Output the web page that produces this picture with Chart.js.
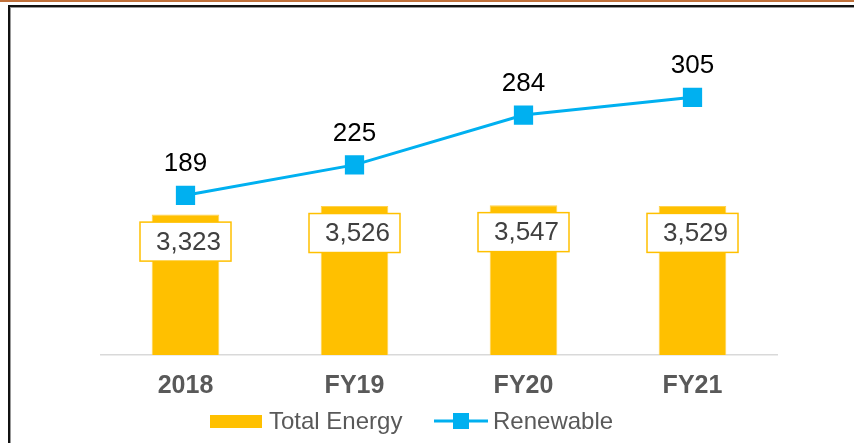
<!DOCTYPE html>
<html>
<head>
<meta charset="utf-8">
<script src="https://cdn.jsdelivr.net/npm/chart.js@4.4.0/dist/chart.umd.min.js"></script>
<style>
  html, body { margin: 0; padding: 0; background: #fff; }
  #wrap { position: relative; width: 854px; height: 443px; overflow: hidden; }
  #topline { position: absolute; left: 0; top: 0; width: 854px; height: 2px; background: #C0703A; }
  #frame { position: absolute; left: 8px; top: 5px; width: 860px; height: 460px;
           border-top: 2px solid #111; border-left: 2px solid #111;
           box-shadow: inset 1px 1px 0 #999; }
  canvas { position: absolute; left: 0; top: 0; }
</style>
</head>
<body>
<div id="wrap">
  <div id="topline"></div>
  <div id="frame"></div>
  <canvas id="chart" width="854" height="443"></canvas>
</div>
<script>
// dados
const categories = ["2018", "FY19", "FY20", "FY21"];
const totalEnergy = [3323, 3526, 3547, 3529];
const renewable = [189, 225, 284, 305];

const FONT = "'Liberation Sans', Arial, sans-serif";
const ORANGE = "#FFC000";
const BLUE = "#00B0F0";

// rótulos dos valores + legenda desenhados à mão
const labelsPlugin = {
  id: "valueLabels",
  afterDatasetsDraw(chart) {
    const ctx = chart.ctx;
    ctx.save();
    ctx.font = "26px " + FONT;
    ctx.textAlign = "center";
    ctx.textBaseline = "middle";

    // barras: caixa branca com borda laranja
    chart.getDatasetMeta(0).data.forEach((bar, i) => {
      const txt = totalEnergy[i].toLocaleString("en-US");
      const w = 91, h = 39;
      const cy = bar.y + 27;
      ctx.fillStyle = "#fff";
      ctx.strokeStyle = ORANGE;
      ctx.lineWidth = 1.5;
      ctx.fillRect(bar.x - w / 2, cy - h / 2, w, h);
      ctx.strokeRect(bar.x - w / 2, cy - h / 2, w, h);
      ctx.fillStyle = "#404040";
      ctx.fillText(txt, bar.x + 3, cy + 1);
    });

    // linha: número acima do ponto
    chart.getDatasetMeta(1).data.forEach((pt, i) => {
      ctx.fillStyle = "#000";
      ctx.fillText(String(renewable[i]), pt.x, pt.y - 31);
    });

    // legenda
    const ly = 421;
    ctx.font = "24px " + FONT;
    ctx.textAlign = "left";
    ctx.fillStyle = ORANGE;
    ctx.fillRect(210, ly - 6, 52, 13);
    ctx.fillStyle = "#595959";
    ctx.fillText(chart.data.datasets[0].label, 269, ly + 1);

    ctx.strokeStyle = BLUE;
    ctx.lineWidth = 3;
    ctx.beginPath();
    ctx.moveTo(434, ly);
    ctx.lineTo(488, ly);
    ctx.stroke();
    ctx.fillStyle = BLUE;
    ctx.fillRect(453, ly - 8, 16, 16);
    ctx.fillStyle = "#595959";
    ctx.fillText(chart.data.datasets[1].label, 493, ly + 1);
    ctx.restore();
  }
};

new Chart(document.getElementById("chart").getContext("2d"), {
  data: {
    labels: categories,
    datasets: [
      {
        type: "bar",
        label: "Total Energy",
        data: totalEnergy,
        backgroundColor: ORANGE,
        borderColor: "#FFD24D",
        borderWidth: 1,
        barPercentage: 0.8,
        categoryPercentage: 0.5,
        yAxisID: "y",
        order: 2
      },
      {
        type: "line",
        label: "Renewable",
        data: renewable,
        borderColor: BLUE,
        borderWidth: 3,
        backgroundColor: BLUE,
        pointStyle: "rect",
        pointRadius: 11.5,
        pointHoverRadius: 11.5,
        tension: 0,
        yAxisID: "y2",
        order: 1
      }
    ]
  },
  options: {
    responsive: false,
    animation: false,
    layout: { padding: { left: 101, right: 77, top: 17, bottom: 26 } },
    plugins: { legend: { display: false }, tooltip: { enabled: false } },
    scales: {
      x: {
        grid: { display: false, drawTicks: false },
        border: { color: "#D9D9D9", width: 1.5 },
        ticks: { color: "#595959", padding: 16, font: { family: FONT, size: 25, weight: "bold" } }
      },
      y: { display: false, min: 0, max: 8000 },
      y2: { display: false, min: 0, max: 400, position: "right" }
    }
  },
  plugins: [labelsPlugin]
});
</script>
</body>
</html>
